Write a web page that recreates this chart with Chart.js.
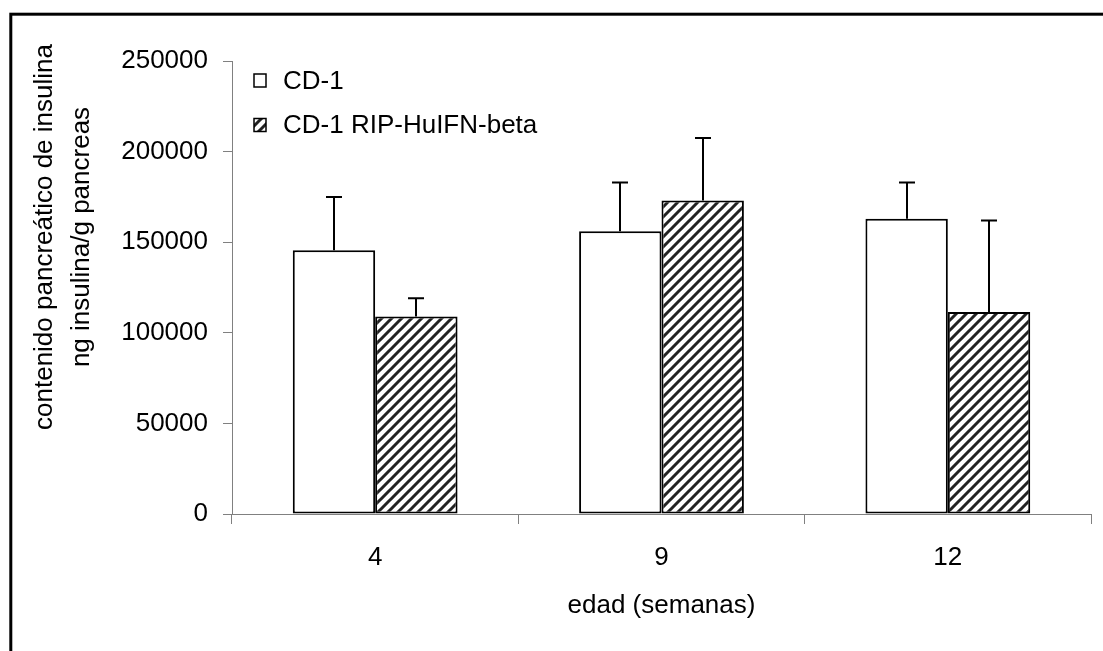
<!DOCTYPE html>
<html>
<head>
<meta charset="utf-8">
<script src="https://cdn.jsdelivr.net/npm/chart.js@4.4.1/dist/chart.umd.min.js"></script>
<style>
  html, body { margin: 0; padding: 0; background: #fff; overflow: hidden; }
  canvas { display: block; }
</style>
</head>
<body>
<canvas id="chart" width="1103" height="651"></canvas>
<script>
// data
const weeks = ['4', '9', '12'];
const cd1Means = [145500, 156000, 163000];
const cd1Errors = [29500, 27000, 20000];
const ripMeans = [109000, 173000, 111500];
const ripErrors = [10000, 34500, 50500];
const seriesNames = ['CD-1', 'CD-1 RIP-HuIFN-beta'];
const yTicks = [0, 50000, 100000, 150000, 200000, 250000];
const yTitleLines = ['contenido pancreático de insulina', 'ng insulina/g pancreas'];
const xTitle = 'edad (semanas)';

const FONT = 'Liberation Sans, Arial, sans-serif';
const SIZE = 26;

// diagonal hatch used for the transgenic group
function makeHatch() {
  const size = 10;
  const c = document.createElement('canvas');
  c.width = size;
  c.height = size;
  const g = c.getContext('2d');
  g.fillStyle = '#fff';
  g.fillRect(0, 0, size, size);
  g.strokeStyle = '#222';
  g.lineWidth = 3;
  g.beginPath();
  g.moveTo(-2, size + 2); g.lineTo(size + 2, -2);
  g.moveTo(-size / 2 - 2, size / 2 + 2); g.lineTo(size / 2 + 2, -size / 2 - 2);
  g.moveTo(size / 2 - 2, size * 1.5 + 2); g.lineTo(size * 1.5 + 2, size / 2 - 2);
  g.stroke();
  return g.createPattern(c, 'repeat');
}
const hatch = makeHatch();

// frame around the whole figure
const framePlugin = {
  id: 'frame',
  beforeDraw(chart) {
    const ctx = chart.ctx;
    ctx.save();
    ctx.fillStyle = '#fff';
    ctx.fillRect(0, 0, chart.width, chart.height);
    ctx.strokeStyle = '#000';
    ctx.lineWidth = 3;
    ctx.strokeRect(10.8, 14.2, 2000, 2000);
    ctx.restore();
  }
};

// upward-only error bars
const errorBarPlugin = {
  id: 'errorBars',
  afterDatasetsDraw(chart) {
    const ctx = chart.ctx;
    const yScale = chart.scales.y;
    const errs = [cd1Errors, ripErrors];
    ctx.save();
    ctx.strokeStyle = '#000';
    ctx.lineWidth = 2;
    chart.data.datasets.forEach((ds, i) => {
      const meta = chart.getDatasetMeta(i);
      meta.data.forEach((bar, j) => {
        const top = yScale.getPixelForValue(ds.data[j] + errs[i][j]);
        const x = Math.round(bar.x);
        ctx.beginPath();
        ctx.moveTo(x, bar.y);
        ctx.lineTo(x, top);
        ctx.moveTo(x - 8, top);
        ctx.lineTo(x + 8, top);
        ctx.stroke();
      });
    });
    ctx.restore();
  }
};

// legend inside the plot (top left) and the two-line y title, placed like the original
const textPlugin = {
  id: 'insideText',
  afterDraw(chart) {
    const ctx = chart.ctx;
    ctx.save();
    ctx.font = SIZE + 'px ' + FONT;
    ctx.textBaseline = 'middle';
    chart.data.datasets.forEach((ds, i) => {
      const cy = 80.5 + i * 44.5;
      ctx.fillStyle = ds.backgroundColor;
      ctx.fillRect(254, cy - 6.5, 12, 13);
      ctx.strokeStyle = '#000';
      ctx.lineWidth = 1.5;
      ctx.strokeRect(254, cy - 6.5, 12, 13);
      ctx.fillStyle = '#000';
      ctx.fillText(ds.label, 283, cy + 1);
    });

    ctx.fillStyle = '#000';
    ctx.textAlign = 'center';
    yTitleLines.forEach((line, i) => {
      ctx.save();
      ctx.translate(45 + i * 37, 237);
      ctx.rotate(-Math.PI / 2);
      ctx.fillText(line, 0, 0);
      ctx.restore();
    });
    ctx.restore();
  }
};

new Chart(document.getElementById('chart').getContext('2d'), {
  type: 'bar',
  data: {
    labels: weeks,
    datasets: [
      {
        label: seriesNames[0],
        data: cd1Means,
        backgroundColor: '#fff',
        borderColor: '#000',
        borderWidth: 2,
        borderSkipped: false
      },
      {
        label: seriesNames[1],
        data: ripMeans,
        backgroundColor: hatch,
        borderColor: '#000',
        borderWidth: 2,
        borderSkipped: false
      }
    ]
  },
  options: {
    responsive: false,
    animation: false,
    events: [],
    layout: { padding: { left: 14, right: 12, top: 61, bottom: 30 } },
    datasets: { bar: { categoryPercentage: 0.5755, barPercentage: 1 } },
    plugins: {
      legend: { display: false },
      tooltip: { enabled: false }
    },
    scales: {
      x: {
        grid: {
          offset: true,
          drawOnChartArea: false,
          drawTicks: true,
          tickLength: 10,
          color: '#808080'
        },
        border: { color: '#808080', width: 1 },
        ticks: {
          color: '#000',
          font: { family: FONT, size: SIZE },
          padding: 18
        },
        title: {
          display: true,
          text: xTitle,
          color: '#000',
          font: { family: FONT, size: SIZE },
          padding: { top: 0, bottom: 0 }
        },
        afterFit(scale) { scale.height = 107; }
      },
      y: {
        min: 0,
        max: 250000,
        afterBuildTicks(scale) { scale.ticks = yTicks.map(v => ({ value: v })); },
        grid: {
          drawOnChartArea: false,
          drawTicks: true,
          tickLength: 9,
          color: '#808080'
        },
        border: { color: '#808080', width: 1 },
        ticks: {
          color: '#000',
          font: { family: FONT, size: SIZE },
          padding: 15,
          callback: value => String(value)
        },
        afterFit(scale) { scale.width = 232 - 14; }
      }
    }
  },
  plugins: [framePlugin, errorBarPlugin, textPlugin]
});
</script>
</body>
</html>
